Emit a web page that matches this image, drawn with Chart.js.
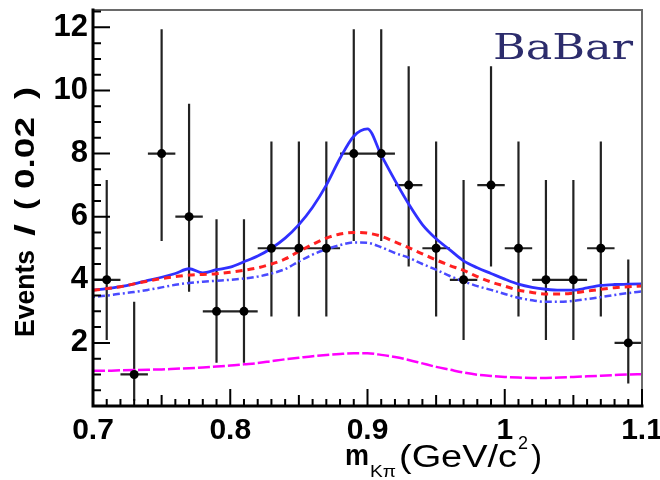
<!DOCTYPE html>
<html>
<head>
<meta charset="utf-8">
<script src="https://cdn.jsdelivr.net/npm/chart.js@4/dist/chart.umd.min.js"></script>
<style>
  html, body { margin: 0; padding: 0; background: #fff; }
  canvas { display: block; }
</style>
</head>
<body>
<canvas id="mkpi" width="660" height="480"></canvas>
<script>
// binned data, bin width 0.02 GeV/c^2
const binWidth = 0.02;
const binCenters = [0.71, 0.73, 0.75, 0.77, 0.79, 0.81, 0.83, 0.85, 0.87, 0.89,
                    0.91, 0.93, 0.95, 0.97, 0.99, 1.01, 1.03, 1.05, 1.07, 1.09];
const events = [4, 1, 8, 6, 3, 3, 5, 5, 5, 8, 8, 7, 5, 4, 7, 5, 4, 4, 5, 2];
// lower / upper ends of the (asymmetric) error bars
const errLo = [2.09, 0.17, 5.23, 3.62, 1.37, 1.37, 2.84, 2.84, 2.84, 5.23,
               5.23, 4.42, 2.84, 2.09, 4.42, 2.84, 2.09, 2.09, 2.84, 0.71];
const errHi = [7.16, 3.30, 11.94, 9.58, 5.92, 5.92, 8.38, 8.38, 8.38, 11.94,
               11.94, 10.77, 8.38, 7.16, 10.77, 8.38, 7.16, 7.16, 8.38, 4.64];

// fit curves, sampled every 0.01
const curveX = [0.70, 0.71, 0.72, 0.73, 0.74, 0.75, 0.76, 0.77, 0.78, 0.79,
                0.80, 0.81, 0.82, 0.83, 0.84, 0.85, 0.86, 0.87, 0.88, 0.89,
                0.90, 0.91, 0.92, 0.93, 0.94, 0.95, 0.96, 0.97, 0.98, 0.99,
                1.00, 1.01, 1.02, 1.03, 1.04, 1.05, 1.06, 1.07, 1.08, 1.09, 1.10];
const totalFit = [3.67, 3.72, 3.78, 3.87, 3.98, 4.08, 4.20, 4.35, 4.22, 4.32,
                  4.40, 4.57, 4.75, 5.00, 5.32, 5.75, 6.30, 7.00, 7.85, 8.55,
                  8.78, 7.95, 7.15, 6.40, 5.75, 5.30, 4.95, 4.60, 4.38, 4.20,
                  4.02, 3.86, 3.76, 3.70, 3.67, 3.67, 3.74, 3.82, 3.85, 3.86, 3.87];
const redFit = [3.67, 3.72, 3.78, 3.87, 3.96, 4.04, 4.10, 4.15, 4.17, 4.19,
                4.24, 4.30, 4.38, 4.50, 4.66, 4.90, 5.12, 5.32, 5.45, 5.50,
                5.48, 5.38, 5.20, 5.02, 4.82, 4.63, 4.45, 4.30, 4.10, 3.93,
                3.80, 3.67, 3.60, 3.55, 3.55, 3.58, 3.64, 3.70, 3.75, 3.78, 3.80];
const blueFit = [3.46, 3.50, 3.56, 3.61, 3.68, 3.76, 3.84, 3.90, 3.94, 3.97,
                 4.00, 4.04, 4.10, 4.20, 4.34, 4.58, 4.80, 4.97, 5.10, 5.18,
                 5.17, 5.03, 4.85, 4.70, 4.50, 4.32, 4.12, 3.95, 3.80, 3.68,
                 3.55, 3.43, 3.35, 3.30, 3.30, 3.33, 3.39, 3.45, 3.52, 3.58, 3.63];
const magentaFit = [1.12, 1.12, 1.13, 1.14, 1.15, 1.16, 1.18, 1.20, 1.22, 1.25,
                    1.28, 1.32, 1.36, 1.42, 1.48, 1.53, 1.58, 1.62, 1.65, 1.67,
                    1.67, 1.62, 1.55, 1.46, 1.35, 1.24, 1.15, 1.06, 0.99, 0.95,
                    0.92, 0.90, 0.89, 0.89, 0.90, 0.92, 0.94, 0.96, 0.98, 1.00, 1.01];

const xTickValues = [0.7, 0.8, 0.9, 1.0, 1.1];
const xTickLabels = ['0.7', '0.8', '0.9', '1', '1.1'];
const yTickValues = [2, 4, 6, 8, 10, 12];
const yTickLabels = ['2', '4', '6', '8', '10', '12'];

const pts = (xs, ys) => xs.map((x, i) => ({ x: x, y: ys[i] }));

// error bars as broken line segments
const vBars = [], hBars = [];
binCenters.forEach((c, i) => {
  vBars.push({ x: c, y: errLo[i] }, { x: c, y: errHi[i] }, { x: c, y: null });
  hBars.push({ x: c - binWidth / 2, y: events[i] }, { x: c + binWidth / 2, y: events[i] }, { x: c, y: null });
});

const curve = (data, color, width, dash) => ({
  type: 'scatter', data: data, showLine: true, pointRadius: 0,
  borderColor: color, borderWidth: width, borderDash: dash,
  cubicInterpolationMode: 'monotone', fill: false, order: 1
});

function fitText(ctx, text, x, y, width) {
  const w = ctx.measureText(text).width;
  ctx.save();
  ctx.translate(x, y);
  ctx.scale(width / w, 1);
  ctx.fillText(text, 0, 0);
  ctx.restore();
}

const decorations = {
  id: 'decorations',
  afterDraw(chart) {
    const { ctx, chartArea: a, scales: { x, y } } = chart;
    ctx.save();
    // frame
    ctx.lineCap = 'square';
    ctx.strokeStyle = '#6a6a6a';
    ctx.lineWidth = 2;
    ctx.beginPath();
    ctx.moveTo(a.left, a.top); ctx.lineTo(a.right, a.top); ctx.lineTo(a.right, a.bottom);
    ctx.stroke();
    ctx.strokeStyle = '#000';
    ctx.lineWidth = 3;
    ctx.beginPath();
    ctx.moveTo(a.left, a.top); ctx.lineTo(a.left, a.bottom); ctx.lineTo(a.right, a.bottom);
    ctx.stroke();

    // inward ticks
    ctx.lineWidth = 2;
    ctx.lineCap = 'butt';
    ctx.beginPath();
    for (let i = 0; i <= 25; i++) {
      const py = y.getPixelForValue(i * 0.5);
      const len = i % 4 === 0 ? 17 : 8;
      ctx.moveTo(a.left, py); ctx.lineTo(a.left + len, py);
    }
    for (let i = 0; i <= 40; i++) {
      const px = x.getPixelForValue(0.7 + i * 0.01);
      const len = i % 10 === 0 ? 17 : (i % 5 === 0 ? 11 : 7);
      ctx.moveTo(px, a.bottom); ctx.lineTo(px, a.bottom - len);
    }
    ctx.stroke();

    // y title
    ctx.fillStyle = '#000';
    ctx.textBaseline = 'middle';
    ctx.textAlign = 'left';
    ctx.save();
    ctx.translate(26, 337);
    ctx.rotate(-Math.PI / 2);
    ctx.font = 'bold 28px "Liberation Sans", Arial, sans-serif';
    fitText(ctx, 'Events', 0, 0, 87);
    fitText(ctx, '/', 101, 0, 12);
    fitText(ctx, '(', 127, 0, 11);
    fitText(ctx, '0.02', 148, 0, 72);
    fitText(ctx, ')', 238, 0, 12);
    ctx.restore();

    // x title
    ctx.textBaseline = 'alphabetic';
    ctx.font = 'bold 30px "Liberation Sans", Arial, sans-serif';
    fitText(ctx, 'm', 345, 465, 24);
    ctx.font = '17px "Liberation Sans", Arial, sans-serif';
    fitText(ctx, 'K\u03c0', 370, 477, 26);
    ctx.font = '31px "Liberation Sans", Arial, sans-serif';
    fitText(ctx, '(GeV/c', 399, 467, 118);
    ctx.font = '19px "Liberation Sans", Arial, sans-serif';
    fitText(ctx, '2', 518, 449, 10);
    ctx.font = '31px "Liberation Sans", Arial, sans-serif';
    fitText(ctx, ')', 531, 467, 11);

    // experiment label
    ctx.fillStyle = '#2c2c6c';
    ctx.font = '36px "DejaVu Serif", serif';
    fitText(ctx, 'BaBar', 493, 59, 140);
    ctx.restore();
  }
};

new Chart(document.getElementById('mkpi'), {
  type: 'scatter',
  data: {
    datasets: [
      { data: vBars, showLine: true, spanGaps: false, pointRadius: 0,
        borderColor: '#222', borderWidth: 2.2, order: 2 },
      { data: hBars, showLine: true, spanGaps: false, pointRadius: 0,
        borderColor: '#222', borderWidth: 2.2, order: 2 },
      curve(pts(curveX, magentaFit), '#ff00ff', 2.5, [12, 3]),
      curve(pts(curveX, blueFit), '#4a4aff', 2.5, [2, 3, 7, 3]),
      curve(pts(curveX, redFit), '#ff2020', 3, [7, 5]),
      curve(pts(curveX, totalFit), '#3030ff', 2.8, []),
      { data: pts(binCenters, events), pointRadius: 4.5, pointBackgroundColor: '#000',
        pointBorderColor: '#000', pointBorderWidth: 0, order: 0 }
    ]
  },
  options: {
    responsive: false,
    animation: false,
    devicePixelRatio: 1,
    layout: { padding: { top: 10, right: 18, left: 0, bottom: 0 } },
    plugins: { legend: { display: false }, tooltip: { enabled: false } },
    scales: {
      x: {
        type: 'linear', min: 0.7, max: 1.1,
        grid: { drawOnChartArea: false, drawTicks: false },
        border: { display: false },
        afterBuildTicks: s => { s.ticks = xTickValues.map(v => ({ value: v })); },
        ticks: {
          padding: 7, color: '#000', maxRotation: 0, autoSkip: false,
          font: { family: '"Liberation Sans", Arial, sans-serif', size: 30, weight: 'bold' },
          callback: (v, i) => xTickLabels[i]
        },
        afterFit: s => { s.height = 74; s.paddingLeft = 0; s.paddingRight = 0; }
      },
      y: {
        type: 'linear', min: 0, max: 12.55,
        grid: { drawOnChartArea: false, drawTicks: false },
        border: { display: false },
        afterBuildTicks: s => { s.ticks = yTickValues.map(v => ({ value: v })); },
        ticks: {
          padding: 5, color: '#000', autoSkip: false,
          font: { family: '"Liberation Sans", Arial, sans-serif', size: 31, weight: 'bold' },
          callback: (v, i) => yTickLabels[i]
        },
        afterFit: s => { s.width = 93; s.paddingTop = 0; s.paddingBottom = 0; }
      }
    }
  },
  plugins: [decorations]
});
</script>
</body>
</html>
